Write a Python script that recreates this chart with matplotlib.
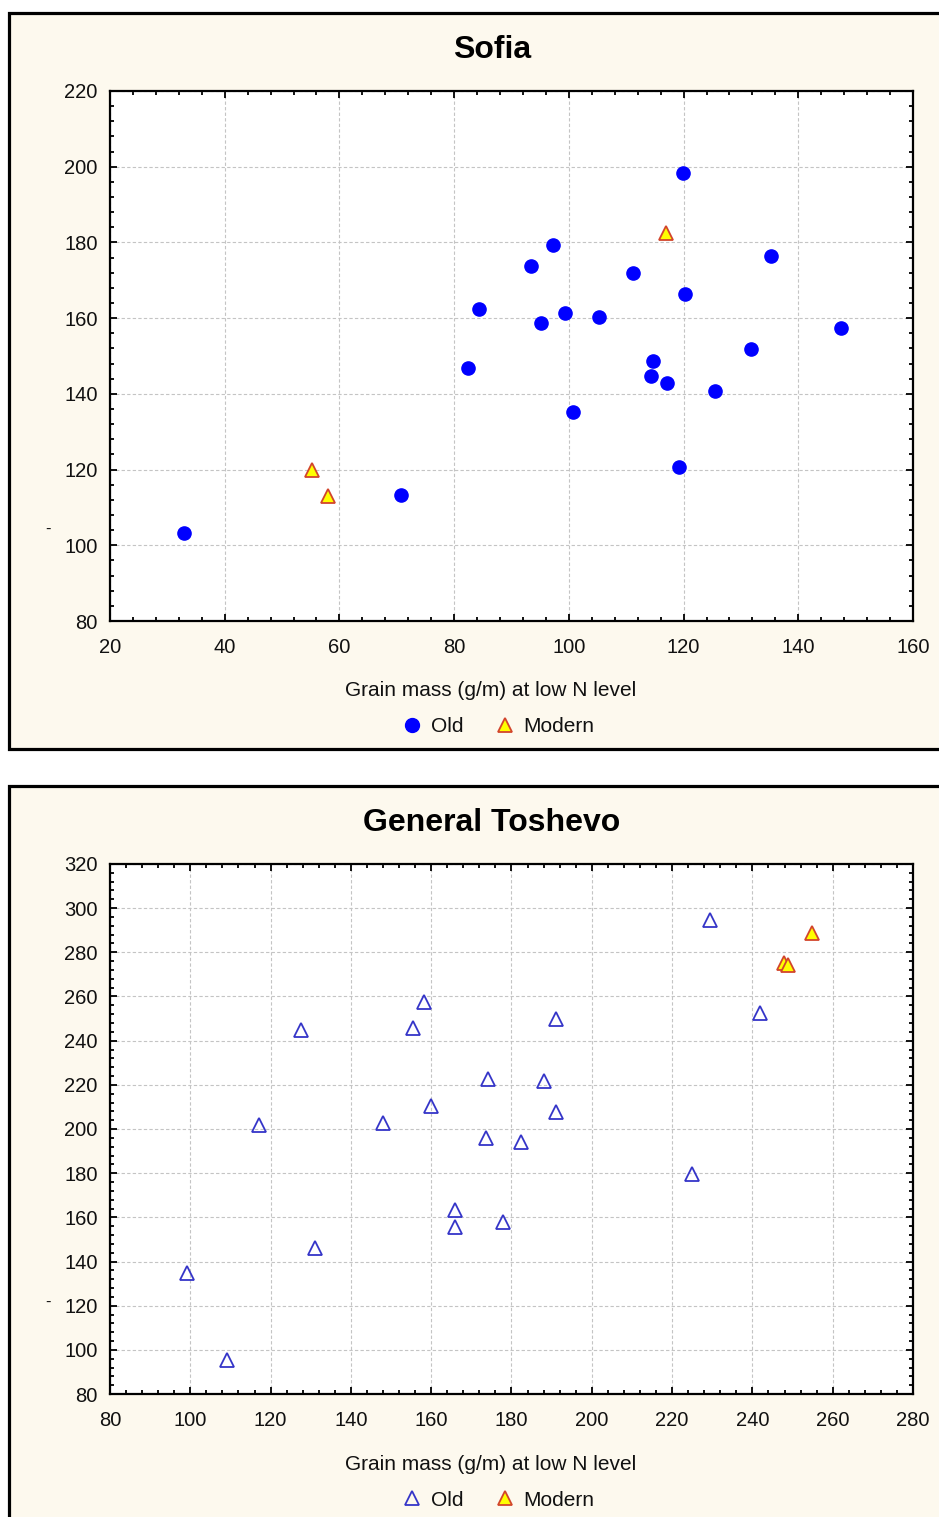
import matplotlib
matplotlib.use("Agg")
import matplotlib.pyplot as plt
from matplotlib.patches import Rectangle
from matplotlib.lines import Line2D
from matplotlib.ticker import MultipleLocator

plt.rcParams['font.family'] = ['Liberation Sans', 'DejaVu Sans']

# --- Sofia ---
sofia_old_x = [32.9, 70.7, 82.4, 84.3, 93.4, 97.2, 95.2, 99.3, 100.7, 105.2, 111.2,
               114.7, 114.3, 117.1, 119.2, 119.9, 120.2, 125.5, 131.8, 135.2, 147.4]
sofia_old_y = [103.2, 113.3, 146.8, 162.4, 173.8, 179.3, 158.7, 161.4, 135.2, 160.3, 171.9,
               148.7, 144.7, 142.9, 120.7, 198.3, 166.4, 140.8, 151.8, 176.4, 157.4]
sofia_mod_x = [55.3, 58.0, 116.9]
sofia_mod_y = [119.9, 113.1, 182.5]

# --- General Toshevo ---
gt_old_x = [99.2, 109.1, 117.1, 127.6, 131.1, 148.0, 155.5, 158.2, 160.0, 165.9, 165.9,
            173.6, 174.1, 177.9, 182.4, 188.1, 191.1, 191.1, 225.0, 229.4, 241.9]
gt_old_y = [134.8, 95.4, 201.8, 244.8, 146.1, 202.7, 245.8, 257.5, 210.4, 163.3, 155.6,
            195.9, 222.7, 157.9, 194.1, 221.8, 249.8, 207.7, 179.6, 294.7, 252.6]
gt_mod_x = [247.9, 248.9, 254.8]
gt_mod_y = [275.2, 274.3, 288.8]

xlabel = "Grain mass (g/m) at low N level"

W, H = 939, 1517
BG = '#fdf9ee'
BLUE = '#0000ff'
OPEN_BLUE = '#3535c8'
YELLOW = '#ffff00'
RED = '#d2452c'


def fx(px):
    return px / W


def fy(py):
    return 1 - py / H


fig = plt.figure(figsize=(W / 100, H / 100), dpi=100)
fig.patch.set_facecolor('white')

# panel frames (run off the right/bottom edge)
for top, bottom in [(13, 749), (786, 1560)]:
    fig.patches.append(Rectangle((fx(8.5), fy(bottom)), fx(1000) - fx(8.5), fy(top) - fy(bottom),
                                 transform=fig.transFigure, facecolor=BG, edgecolor='black',
                                 linewidth=2.3, zorder=-10))


def make_axes(top, xlim, ylim):
    ax = fig.add_axes([fx(110), fy(top + 530), 803 / W, 530 / H])
    ax.set_zorder(1)
    ax.set_facecolor('white')
    ax.set_xlim(*xlim)
    ax.set_ylim(*ylim)
    ax.xaxis.set_major_locator(MultipleLocator(20))
    ax.yaxis.set_major_locator(MultipleLocator(20))
    ax.xaxis.set_minor_locator(MultipleLocator(4))
    ax.yaxis.set_minor_locator(MultipleLocator(4))
    ax.tick_params(which='both', direction='in', top=True, right=True, colors='black',
                   labelcolor='#111111', labelsize=14.5, width=1.3)
    ax.tick_params(which='major', length=5)
    ax.tick_params(which='minor', length=3)
    ax.tick_params(axis='x', pad=12)
    ax.tick_params(axis='y', pad=9)
    for sp in ax.spines.values():
        sp.set_linewidth(1.6)
    ax.grid(True, which='major', linestyle=(0, (3, 2)), color='#c4c4c4', linewidth=0.8)
    ax.set_axisbelow(True)
    return ax


# Sofia panel
ax1 = make_axes(91, (20, 160), (80, 220))
ax1.plot(sofia_old_x, sofia_old_y, 'o', color=BLUE, markersize=9.5, linestyle='none', zorder=3)
ax1.plot(sofia_mod_x, sofia_mod_y, '^', markerfacecolor=YELLOW, markeredgecolor=RED,
         markeredgewidth=1.3, markersize=9.5, linestyle='none', zorder=4)
fig.text(fx(492), fy(50), "Sofia", ha='center', va='center', fontsize=23, fontweight='bold')
fig.text(fx(491), fy(691), xlabel, ha='center', va='center', fontsize=15, color='#111111')
fig.text(fx(48), fy(529), "-", ha='center', va='center', fontsize=12, color='#111111')
h1 = [Line2D([], [], marker='o', color=BLUE, linestyle='none', markersize=10),
      Line2D([], [], marker='^', markerfacecolor=YELLOW, markeredgecolor=RED,
             markeredgewidth=1.3, linestyle='none', markersize=10)]
fig.legend(h1, ["Old", "Modern"], loc='center', bbox_to_anchor=(fx(497), fy(727)),
           ncol=2, frameon=False, fontsize=15, handletextpad=0.3, columnspacing=1.4,
           handlelength=1.2, labelcolor='#111111')

# General Toshevo panel
ax2 = make_axes(864, (80, 280), (80, 320))
ax2.plot(gt_old_x, gt_old_y, '^', markerfacecolor='none', markeredgecolor=OPEN_BLUE,
         markeredgewidth=1.3, markersize=9.5, linestyle='none', zorder=3)
ax2.plot(gt_mod_x, gt_mod_y, '^', markerfacecolor=YELLOW, markeredgecolor=RED,
         markeredgewidth=1.3, markersize=9.5, linestyle='none', zorder=4)
fig.text(fx(492), fy(823), "General Toshevo", ha='center', va='center', fontsize=23,
         fontweight='bold')
fig.text(fx(491), fy(1464), xlabel, ha='center', va='center', fontsize=15, color='#111111')
fig.text(fx(48), fy(1302), "-", ha='center', va='center', fontsize=12, color='#111111')
h2 = [Line2D([], [], marker='^', markerfacecolor='none', markeredgecolor=OPEN_BLUE,
             markeredgewidth=1.3, linestyle='none', markersize=10),
      Line2D([], [], marker='^', markerfacecolor=YELLOW, markeredgecolor=RED,
             markeredgewidth=1.3, linestyle='none', markersize=10)]
fig.legend(h2, ["Old", "Modern"], loc='center', bbox_to_anchor=(fx(497), fy(1500)),
           ncol=2, frameon=False, fontsize=15, handletextpad=0.3, columnspacing=1.4,
           handlelength=1.2, labelcolor='#111111')

fig.savefig("out.png", dpi=100, facecolor='white')
